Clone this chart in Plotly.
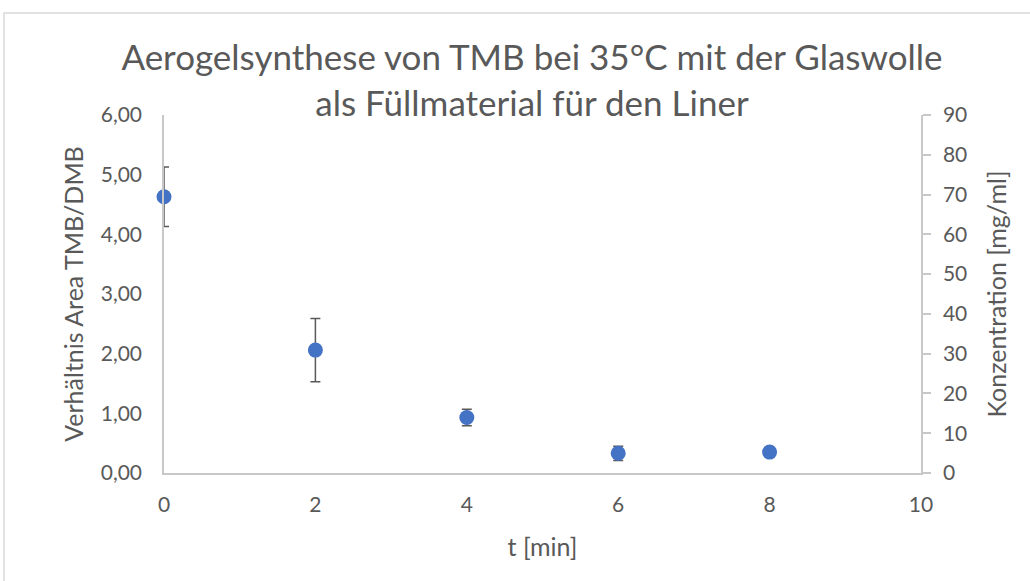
import plotly.graph_objects as go

# Measured ratio TMB/DMB over time, with standard deviations
t_min = [0, 2, 4, 6, 8]
ratio = [4.63, 2.06, 0.93, 0.33, 0.35]
ratio_err = [0.50, 0.53, 0.14, 0.12, 0.0]

left_ticks = [0, 1, 2, 3, 4, 5, 6]
right_ticks = [0, 10, 20, 30, 40, 50, 60, 70, 80, 90]

FONT = "Lato"
TEXT = "#595959"
LINE = "#c8c8c8"

W, H = 1030, 581
L, R, T, B = 164, 921, 115, 473


def px_x(px):
    return (px - L) / (R - L)


def px_y(py):
    return (B - py) / (B - T)


fig = go.Figure()
# error bars
fig.add_trace(go.Scatter(
    x=t_min, y=ratio, mode="markers",
    marker=dict(color="rgba(0,0,0,0)", size=1),
    error_y=dict(type="data", array=ratio_err, visible=True,
                 color="#595959", thickness=1.5, width=5),
    cliponaxis=True, showlegend=False, hoverinfo="skip",
))
# data points on top
fig.add_trace(go.Scatter(
    x=t_min, y=ratio, mode="markers",
    marker=dict(color="#4472C4", size=15),
    cliponaxis=False, showlegend=False,
))
# secondary axis carrier (no points)
fig.add_trace(go.Scatter(x=[], y=[], yaxis="y2", showlegend=False))

fig.update_layout(
    width=W, height=H,
    margin=dict(l=L, r=W - R, t=T, b=H - B),
    paper_bgcolor="white", plot_bgcolor="white",
    separators=",.",
    font=dict(family=FONT, color=TEXT, size=21),
    xaxis=dict(range=[0, 10], tickvals=[0, 2, 4, 6, 8, 10],
               showgrid=False, zeroline=False, showline=True,
               linecolor=LINE, linewidth=1.5, ticks="",
               ticklabelstandoff=12,
               tickfont=dict(size=21, color=TEXT),
               title=dict(text="t [min]", font=dict(size=25, color=TEXT), standoff=24)),
    yaxis=dict(range=[0, 6], tickvals=left_ticks, tickformat=".2f",
               showgrid=False, zeroline=False, showline=True,
               linecolor=LINE, linewidth=1.5, ticks="",
               ticklabelstandoff=16,
               tickfont=dict(size=21, color=TEXT),
               title=dict(text="Verhältnis Area TMB/DMB", font=dict(size=25, color=TEXT), standoff=10)),
    yaxis2=dict(range=[0, 90], tickvals=right_ticks, overlaying="y", side="right",
                showgrid=False, zeroline=False, showline=True,
                linecolor=LINE, linewidth=1.5, ticks="outside", ticklen=8,
                tickcolor=LINE, tickwidth=1.5,
                ticklabelstandoff=8,
                tickfont=dict(size=21, color=TEXT),
                title=dict(text="Konzentration [mg/ml]", font=dict(size=25, color=TEXT), standoff=22)),
    title=dict(text="Aerogelsynthese von TMB bei 35°C mit der Glaswolle<br>als Füllmaterial für den Liner",
               x=px_x(532), xref="paper", xanchor="center",
               y=1 - 70 / H, yref="container", yanchor="middle",
               font=dict(size=35, color=TEXT, family=FONT)),
    shapes=[dict(type="rect", xref="paper", yref="paper",
                 x0=px_x(4), y0=px_y(640), x1=px_x(1080), y1=px_y(13),
                 line=dict(color="#d9d9d9", width=1.5), fillcolor="rgba(0,0,0,0)",
                 layer="below")],
)

fig.write_html("out.html")
